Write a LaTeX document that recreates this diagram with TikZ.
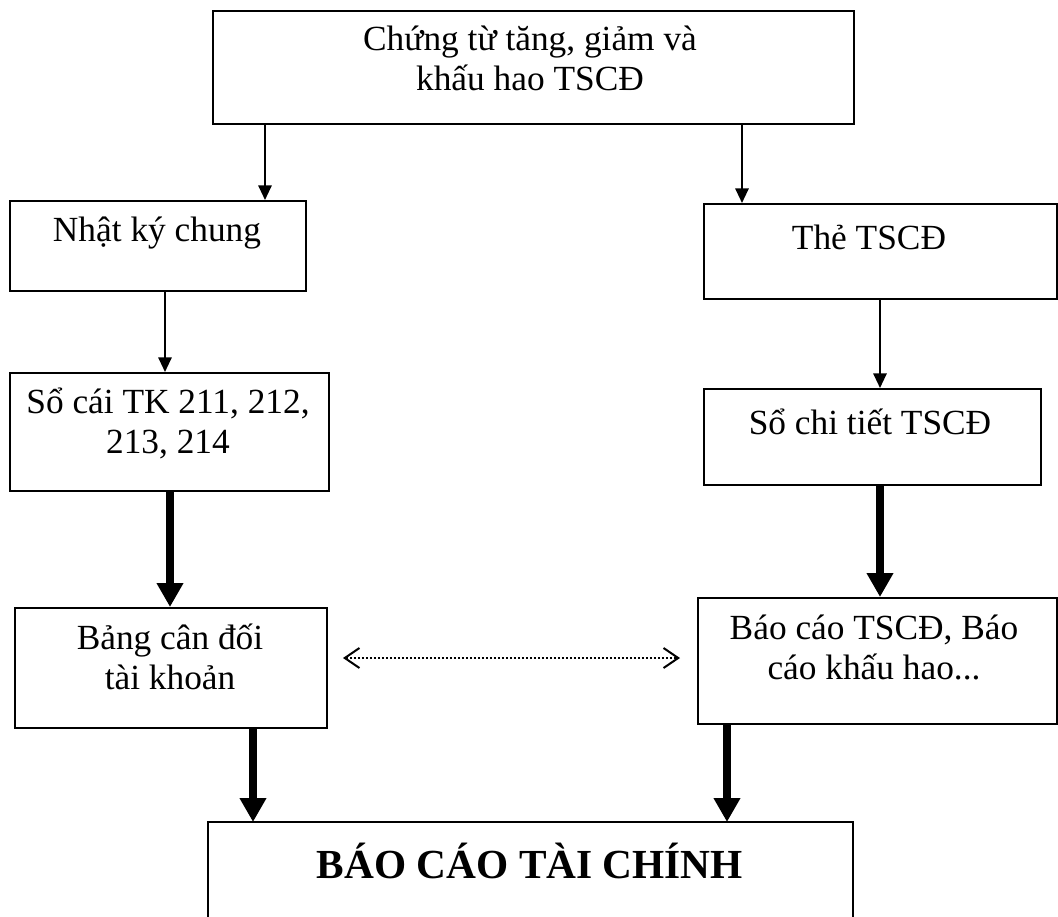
\documentclass[tikz,border=0pt]{standalone}
\usepackage{fontspec}
\setmainfont{Liberation Serif}
\usetikzlibrary{arrows.meta,calc}
\begin{document}
\begin{tikzpicture}[x=0.75pt,y=-0.75pt,
  box/.style={draw,line width=1.5pt,rectangle,inner sep=0pt,anchor=north west},
  sz/.style 2 args={minimum width=#1*0.75pt,minimum height=#2*0.75pt},
  lbl/.style={font=\fontsize{26.5}{30}\selectfont,align=center,inner sep=0pt},
  thinarrow/.style={line width=1.5pt,-{Triangle[length=11pt,width=10pt]}},
  thickarrow/.style={line width=6.5pt,-{Triangle[length=18pt,width=19pt]}},
  dotarrow/.style={line width=1.5pt,dash pattern=on 1.5pt off 1.5pt,
    {Straight Barb[length=11pt,width=15pt]}-{Straight Barb[length=11pt,width=15pt]}}
]
\useasboundingbox (0,0) rectangle (1058,917);

% boxes
\node[box,sz={641}{113}] (top) at (212,10) {};
\node[box,sz={296}{90}]  (nkc) at (9,200) {};
\node[box,sz={353}{95}]  (the) at (703,203) {};
\node[box,sz={319}{118}] (socai) at (9,372) {};
\node[box,sz={337}{96}]  (sct) at (703,388) {};
\node[box,sz={312}{120}] (bang) at (14,607) {};
\node[box,sz={359}{126}] (bcts) at (697,597) {};
\node[inner sep=0pt,anchor=north west,sz={644}{95}] (bctc) at (208,822) {};
\draw[line width=1.5pt] (bctc.south west) |- (bctc.north east) -- (bctc.south east);

% labels
\node[lbl] (ttop) at (530,58) {Chứng từ tăng, giảm và\\khấu hao TSCĐ};
\node[lbl] (tnkc) at (157,233) {Nhật ký chung};
\node[lbl] (tthe) at (869,237) {Thẻ TSCĐ};
\node[lbl] (tsocai) at (168,423) {Sổ cái TK 211, 212,\\213, 214};
\node[lbl] (tsct) at (870,422) {Sổ chi tiết TSCĐ};
\node[lbl] (tbang) at (170,657) {Bảng cân đối\\tài khoản};
\node[lbl] (tbcts) at (874,647) {Báo cáo TSCĐ, Báo\\cáo khấu hao...};
\node[lbl,font=\fontsize{31}{34}\selectfont\bfseries] (tbctc) at (530,861) {BÁO CÁO TÀI CHÍNH};

% arrow columns
\coordinate (xa) at (265,0);
\coordinate (xb) at (742,0);
\coordinate (xc) at (165,0);
\coordinate (xd) at (880,0);
\coordinate (xe) at (170,0);
\coordinate (xf) at (253,0);
\coordinate (xg) at (727,0);

\draw[thinarrow] (top.south -| xa) -- (nkc.north -| xa);
\draw[thinarrow] (top.south -| xb) -- (the.north -| xb);
\draw[thinarrow] (nkc.south -| xc) -- (socai.north -| xc);
\draw[thinarrow] (the.south -| xd) -- (sct.north -| xd);
\draw[thickarrow] (socai.south -| xe) -- (bang.north -| xe);
\draw[thickarrow] (sct.south -| xd) -- (bcts.north -| xd);
\draw[thickarrow] (bang.south -| xf) -- (bctc.north -| xf);
\draw[thickarrow] (bcts.south -| xg) -- (bctc.north -| xg);

% dotted link between the two reports
\coordinate (dl) at (343,658);
\coordinate (dr) at (680,658);
\draw[dotarrow] (dl) -- (dr);
\end{tikzpicture}
\end{document}
